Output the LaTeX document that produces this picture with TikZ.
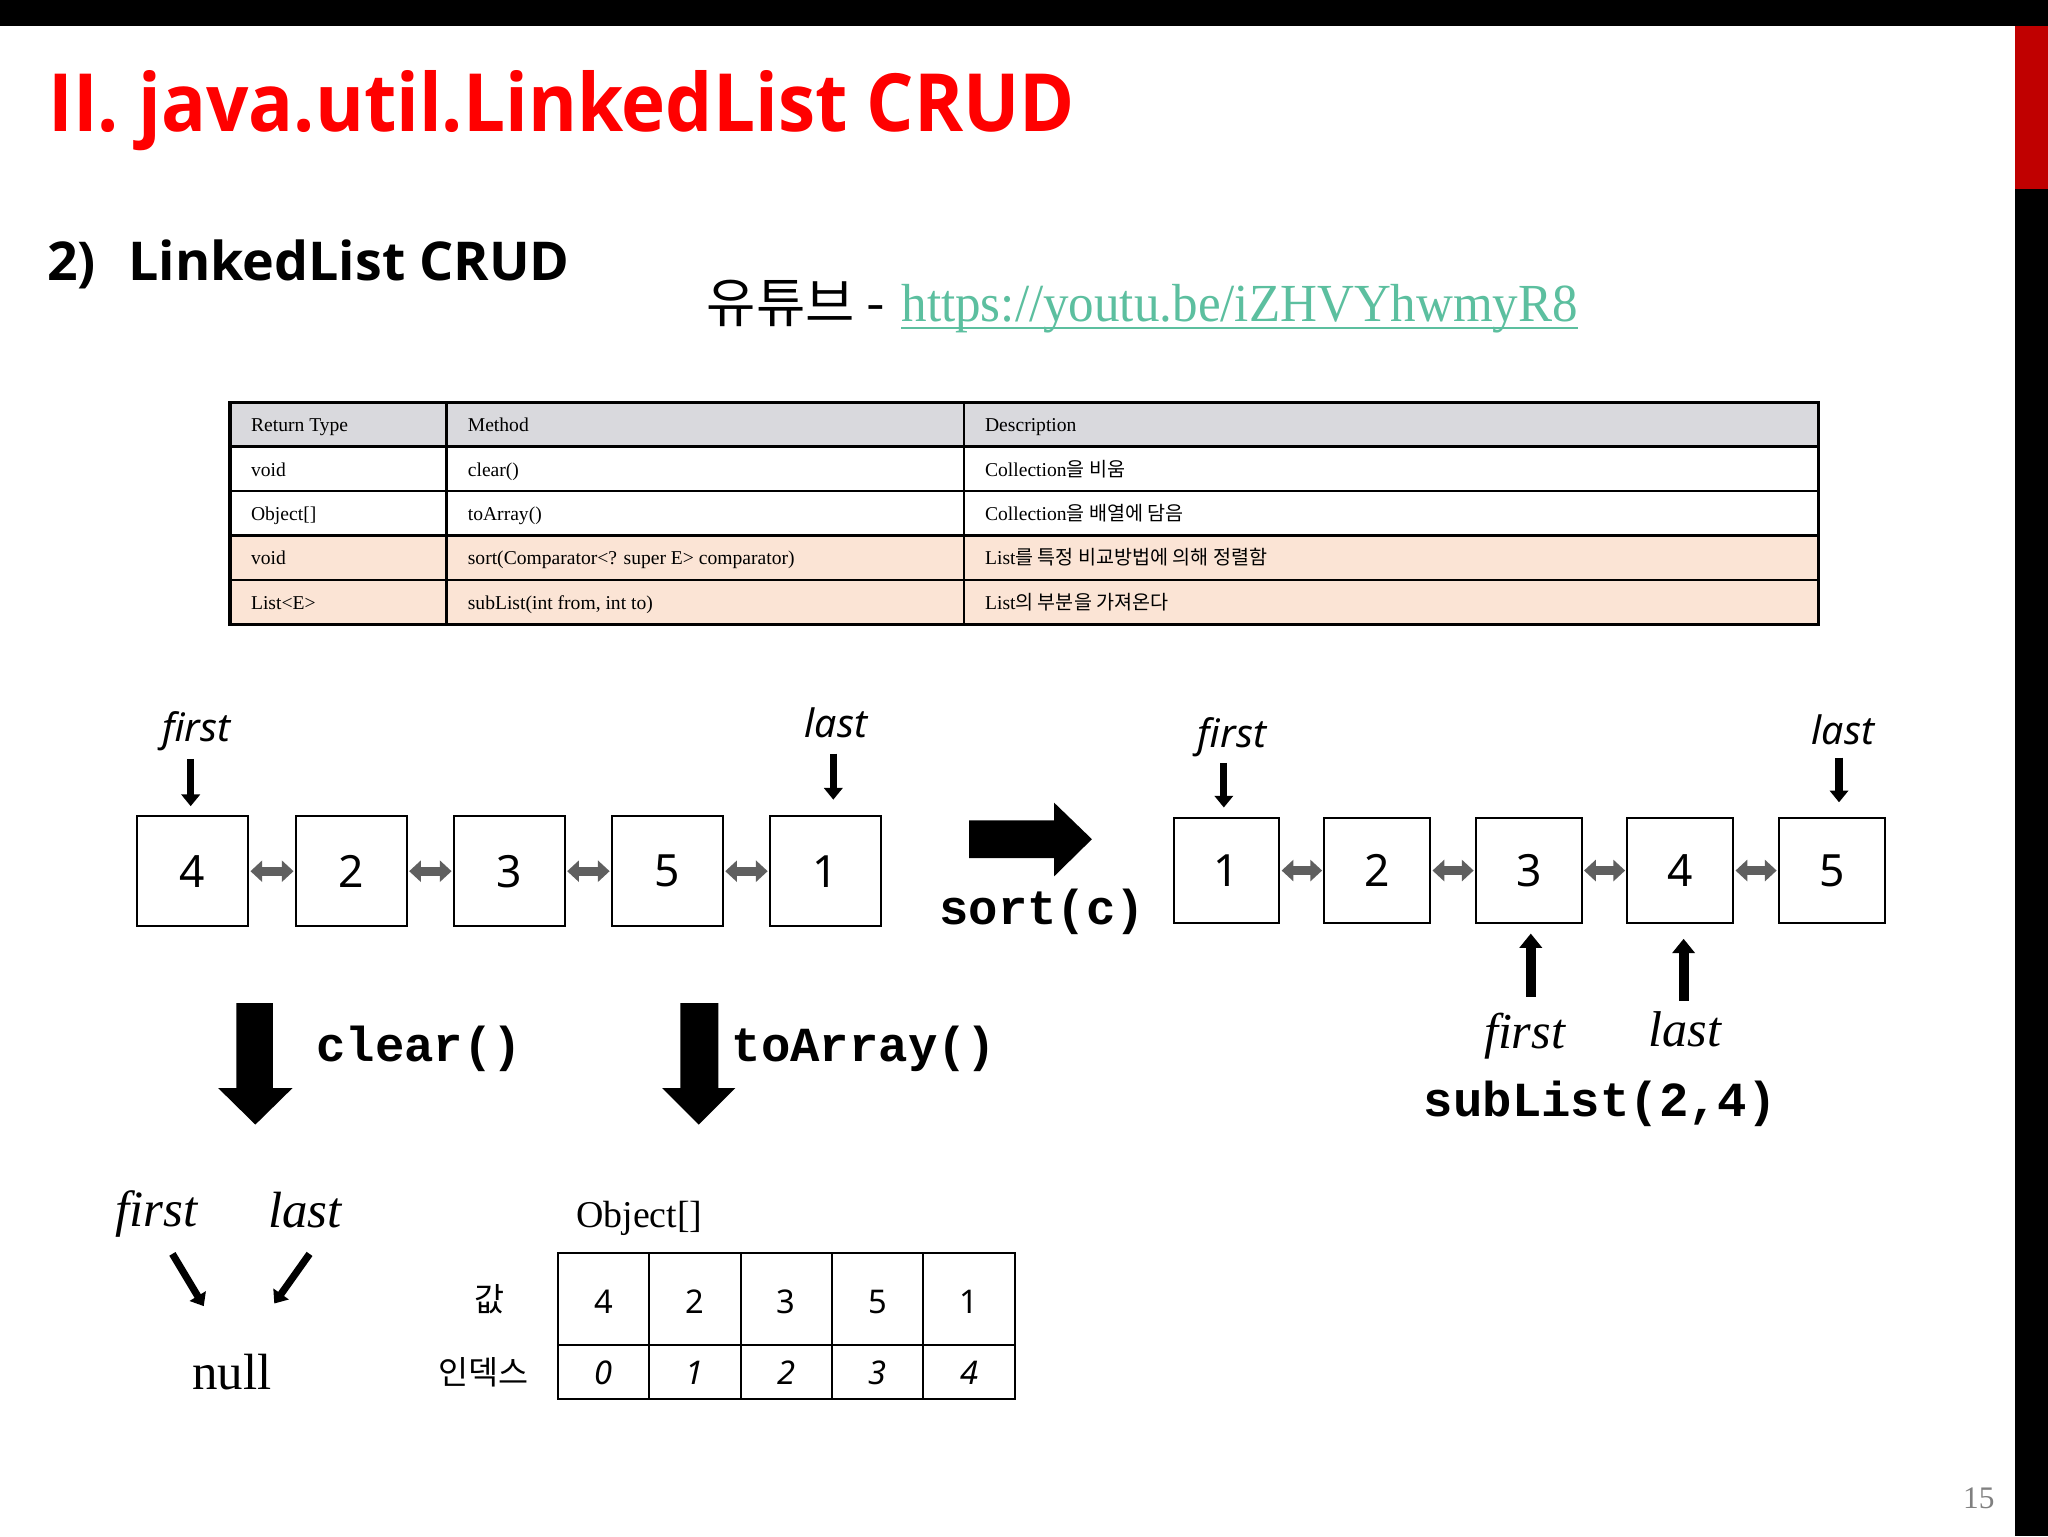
\documentclass[tikz,border=0pt]{standalone}
\usepackage{fontspec}
\usepackage{graphicx}
\usetikzlibrary{arrows.meta,calc}
\setmainfont{Liberation Serif}
\newfontfamily\sn{Noto Sans}
\IfFontExistsTF{Open Sans Bold}{\newfontfamily\snb{Open Sans Bold}}{\newfontfamily\snb{Noto Sans}[FakeBold=3.5]}
\newfontfamily\kr{Noto Sans CJK KR}
\newfontfamily\mono{Liberation Mono}
\newcommand\fs[1]{\fontsize{#1}{#1}\selectfont}
\definecolor{titlered}{HTML}{FF0000}
\definecolor{barred}{HTML}{C00000}
\definecolor{linkc}{HTML}{5CBF9F}
\definecolor{hdr}{HTML}{D9D9DD}
\definecolor{peach}{HTML}{FBE4D5}
\definecolor{dgray}{HTML}{5F5F5F}
\definecolor{pgray}{HTML}{808080}
\begin{document}
\begin{tikzpicture}[x=1pt,y=-1pt,
  every node/.style={inner sep=0pt},
  txt/.style={anchor=base west},
  tt/.style={anchor=base west,font=\fs{15}},
  box/.style={draw,line width=1.5pt,minimum width=85pt,minimum height=84pt,font=\sn\fs{34}},
  rbox/.style={box,minimum width=81pt,minimum height=81pt},
  dbl/.style={draw=dgray,line width=7pt,{Triangle[length=9pt,width=16pt]}-{Triangle[length=9pt,width=16pt]},shorten <=1pt,shorten >=1pt},
  ptr/.style={line width=5.5pt,-{Triangle[length=9pt,width=14pt]}},
  ptrb/.style={line width=7.5pt,-{Triangle[length=11pt,width=17pt]}},
  lbl/.style={anchor=base west,font=\sn\itshape\fs{30}},
  tlbl/.style={anchor=base west,font=\itshape\fs{38.5}},
  code/.style={anchor=base west,font=\mono\bfseries\fs{37.5}},
  arr/.style={font=\sn\fs{25}},
  idx/.style={font=\sn\itshape\fs{25}}
]
\useasboundingbox (0,0) rectangle (1568,1176);
\fill[white] (0,0) rectangle (1568,1176);
% frame bars
\fill[black] (0,0) rectangle (1568,20);
\fill[black] (1543,20) rectangle (1568,1176);
\fill[barred] (1543,20) rectangle (1568,145);

% titles
\node[txt,text=titlered] (title) at (37,100.5) {\resizebox{786pt}{\height}{\snb\fs{61.5}II. java.util.LinkedList CRUD}};
\node[txt] (sub1) at (36,214.5) {\snb\fs{41}2)};
\node[txt] (sub2) at (98,214.5) {\resizebox{338pt}{\height}{\snb\fs{41}LinkedList CRUD}};
\node[txt] (yt) at (541,247) {\kr\fs{41}유튜브 -};
\node[txt,text=linkc] (url) at (690,246) {\resizebox{518pt}{\height}{\fs{41}https://youtu.be/iZHVYhwmyR8}};
\draw[linkc,line width=1.6pt] ([yshift=-5pt]url.base west) -- ([yshift=-5pt]url.base east);

% method table
\fill[hdr] (176,308) rectangle (1392,342);
\fill[peach] (176,410) rectangle (1392,478);
\foreach \yy in {342,376,410,444} \draw[line width=2pt] (176,\yy) -- (1392,\yy);
\foreach \xx in {342,738} \draw[line width=2pt] (\xx,308) -- (\xx,478);
\draw[line width=2.5pt] (176,308) rectangle (1392,478);
\node[tt] (h1) at (192,330.5) {Return Type};
\node[tt] (h2) at (358,330.5) {Method};
\node[tt] (h3) at (754,330.5) {Description};
\node[tt] (a1) at (192,364.5) {void};
\node[tt] (a2) at (358,364.5) {clear()};
\node[tt] (a3) at (754,364.5) {Collection{\kr 을 비움}};
\node[tt] (b1) at (192,398.5) {Object[]};
\node[tt] (b2) at (358,398.5) {toArray()};
\node[tt] (b3) at (754,398.5) {Collection{\kr 을 배열에 담음}};
\node[tt] (c1) at (192,432.5) {void};
\node[tt] (c2) at (358,432.5) {sort(Comparator<? super E> comparator)};
\node[tt] (c3) at (754,432.5) {List{\kr 를 특정 비교방법에 의해 정렬함}};
\node[tt] (d1) at (192,466.5) {List<E>};
\node[tt] (d2) at (358,466.5) {subList(int from, int to)};
\node[tt] (d3) at (754,466.5) {List{\kr 의 부분을 가져온다}};

% left linked list
\node[box] (l1) at (147.5,667) {4};
\node[box] (l2) at (269,667) {2};
\node[box] (l3) at (390,667) {3};
\node[box] (l4) at (511,667) {5};
\node[box] (l5) at (632,667) {1};
\draw[dbl] (l1) -- (l2);
\draw[dbl] (l2) -- (l3);
\draw[dbl] (l3) -- (l4);
\draw[dbl] (l4) -- (l5);
\node[lbl] (lf) at (124,568) {first};
\node[lbl] (ll) at (616,565) {last};
\coordinate (lfa) at (146,581);
\coordinate (lla) at (638,577);
\draw[ptr,shorten >=7pt] (lfa) -- (lfa |- l1.north);
\draw[ptr,shorten >=12pt] (lla) -- (lla |- l5.north);

% sort arrow
\fill[black] (742,628) -- (807,628) -- (807,614.5) -- (836,642.5) -- (807,671) -- (807,657) -- (742,657) -- cycle;
\node[code] (sortc) at (719,708) {sort(c)};

% right linked list
\node[rbox] (r1) at (939,666.5) {1};
\node[rbox] (r2) at (1054.5,666.5) {2};
\node[rbox] (r3) at (1170.5,666.5) {3};
\node[rbox] (r4) at (1286.5,666.5) {4};
\node[rbox] (r5) at (1402.5,666.5) {5};
\draw[dbl] (r1) -- (r2);
\draw[dbl] (r2) -- (r3);
\draw[dbl] (r3) -- (r4);
\draw[dbl] (r4) -- (r5);
\node[lbl] (rf) at (917,572) {first};
\node[lbl] (rl) at (1387,570) {last};
\coordinate (rfa) at (937,584);
\coordinate (rla) at (1408,580);
\draw[ptr,shorten >=7pt] (rfa) -- (rfa |- r1.north);
\draw[ptr,shorten >=11pt] (rla) -- (rla |- r5.north);

% subList
\coordinate (sfa) at (1172,763);
\coordinate (sla) at (1289,766);
\draw[ptrb,shorten >=7pt] (sfa) -- (sfa |- r3.south);
\draw[ptrb,shorten >=11pt] (sla) -- (sla |- r4.south);
\node[tlbl] (sf) at (1136,802.5) {first};
\node[tlbl] (sl) at (1262,801.5) {last};
\node[code] (subl) at (1090,855) {subList(2,4)};

% clear / toArray arrows
\fill[black] (181,768) -- (209,768) -- (209,833) -- (224,833) -- (195.5,861) -- (167,833) -- (181,833) -- cycle;
\fill[black] (521,768) -- (550,768) -- (550,833) -- (563,833) -- (535,861) -- (507,833) -- (521,833) -- cycle;
\node[code] (clr) at (242,813) {clear()};
\node[code] (toa) at (560,813) {toArray()};

% clear result
\node[tlbl,font=\itshape\fs{39}] (bf) at (88,939) {first};
\node[tlbl,font=\itshape\fs{39}] (bl) at (205,940) {last};
\node[txt,font=\fs{39}] (nul) at (147,1064) {null};
\coordinate (d1s) at (132,960);
\coordinate (d1e) at (156,1000);
\coordinate (d2s) at (237,960);
\coordinate (d2e) at (210,998);
\draw[ptr] (d1s) -- (d1e);
\draw[ptr] (d2s) -- (d2e);

% array
\node[txt,font=\fs{29}] (obj) at (441,940) {Object[]};
\foreach \v/\i [count=\k from 0] in {4/0,2/1,3/2,5/3,1/4} {
  \node[arr] (v\k) at (462+70*\k,996.5) {\v};
  \node[idx] (i\k) at (462+70*\k,1051) {\i};
}
\draw[line width=1.6pt] (427,959) rectangle (777,1071);
\draw[line width=1.6pt] (427,1030) -- (777,1030);
\foreach \xx in {497,567,637,707} \draw[line width=1.6pt] (\xx,959) -- (\xx,1071);
\node[font=\kr\fs{25}] (gap) at (374.5,995) {값};
\node[font=\kr\fs{25}] (ind) at (370,1051) {인덱스};

% page number
\node[font=\fs{24},text=pgray] (pg) at (1515,1147) {15};
\end{tikzpicture}
\end{document}
